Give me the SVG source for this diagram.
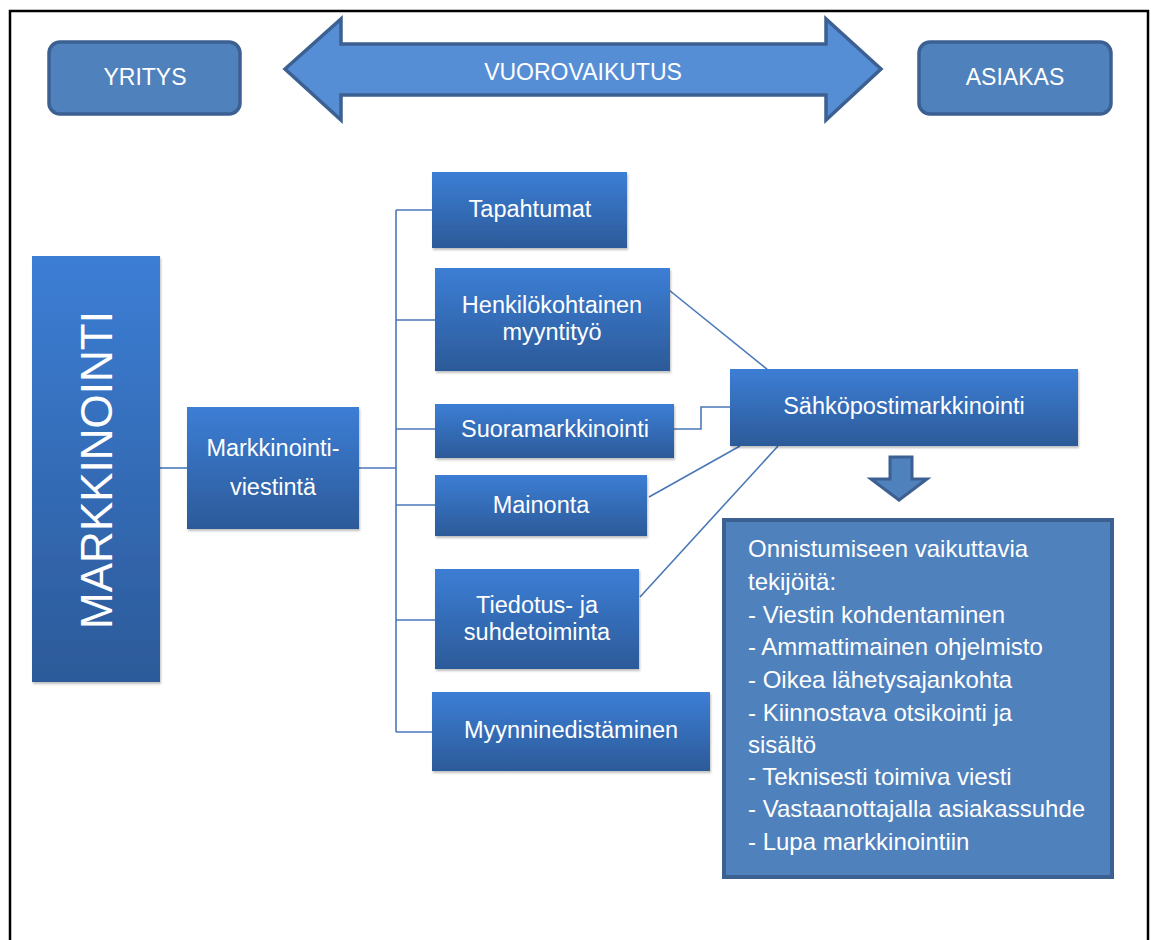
<svg xmlns="http://www.w3.org/2000/svg" width="1151" height="940" viewBox="0 0 1151 940">
<style>
.t{font-family:"Liberation Sans",Arial,sans-serif;fill:#fff;text-anchor:middle}
.n{font-size:23.5px}
.h{font-size:23px}
.l{font-family:"Liberation Sans",Arial,sans-serif;fill:#fff;font-size:24px}
.box{fill:url(#g);filter:url(#sh)}
.rb{fill:#4f81bd;stroke:#3c6091;stroke-width:3.5}
.c{fill:none;stroke:#4a78b8;stroke-width:1.6}
</style>
<defs>
<linearGradient id="g" x1="0" y1="0" x2="0" y2="1">
<stop offset="0" stop-color="#3c7ed5"/>
<stop offset="1" stop-color="#2c5a99"/>
</linearGradient>
<filter id="sh" x="-10%" y="-10%" width="130%" height="130%">
<feDropShadow dx="1" dy="2" stdDeviation="1.2" flood-color="#000" flood-opacity="0.25"/>
</filter>
</defs>
<rect width="1151" height="940" fill="#fff"/>
<path d="M10,945 V11 H1148 V945" fill="none" stroke="#000" stroke-width="2.5"/>

<g id="yritys">
<rect class="rb" x="49" y="42" width="191" height="72" rx="11"/>
<text class="t h" x="145" y="85">YRITYS</text>
</g>
<g id="asiakas">
<rect class="rb" x="919" y="42" width="192" height="72" rx="11"/>
<text class="t h" x="1015" y="85">ASIAKAS</text>
</g>
<g id="vuorovaikutus">
<path class="rb" d="M285,69 L341,19 V44 H826 V19 L881,69 L826,120 V95 H341 V120 Z" style="fill:#558ed5"/>
<text class="t h" x="583" y="80">VUOROVAIKUTUS</text>
</g>

<g id="connectors">
<path class="c" d="M160,468 H187"/>
<path class="c" d="M359,468 H396"/>
<path class="c" d="M396,210 V732"/>
<path class="c" d="M396,210 H432"/>
<path class="c" d="M396,320 H435"/>
<path class="c" d="M396,429 H435"/>
<path class="c" d="M396,505 H435"/>
<path class="c" d="M396,620 H435"/>
<path class="c" d="M396,732 H432"/>
<path class="c" d="M669,290 L768,370"/>
<path class="c" d="M674,429 H701 V407 H730"/>
<path class="c" d="M649,497 L740,446"/>
<path class="c" d="M640,597 L778,446"/>
</g>

<g id="markkinointi">
<rect class="box" x="32" y="256" width="128" height="426"/>
<text class="t" style="font-size:44px" transform="translate(112,470) rotate(-90)">MARKKINOINTI</text>
</g>
<g id="markkinointiviestinta">
<rect class="box" x="187" y="407" width="172" height="122"/>
<text class="t n" x="273" y="456">Markkinointi-</text>
<text class="t n" x="273" y="495">viestintä</text>
</g>
<g id="tapahtumat">
<rect class="box" x="432" y="172" width="195" height="76"/>
<text class="t n" x="530" y="217">Tapahtumat</text>
</g>
<g id="henkilokohtainen">
<rect class="box" x="435" y="268" width="235" height="103"/>
<text class="t n" x="552" y="313">Henkilökohtainen</text>
<text class="t n" x="552" y="340">myyntityö</text>
</g>
<g id="suoramarkkinointi">
<rect class="box" x="435" y="404" width="239" height="54"/>
<text class="t n" x="555" y="437">Suoramarkkinointi</text>
</g>
<g id="mainonta">
<rect class="box" x="435" y="475" width="212" height="61"/>
<text class="t n" x="541" y="513">Mainonta</text>
</g>
<g id="tiedotus">
<rect class="box" x="435" y="569" width="204" height="100"/>
<text class="t n" x="537" y="613">Tiedotus- ja</text>
<text class="t n" x="537" y="640">suhdetoiminta</text>
</g>
<g id="myynninedistaminen">
<rect class="box" x="432" y="692" width="278" height="79"/>
<text class="t n" x="571" y="738">Myynninedistäminen</text>
</g>
<g id="sahkopostimarkkinointi">
<rect class="box" x="730" y="369" width="348" height="77"/>
<text class="t n" x="904" y="414">Sähköpostimarkkinointi</text>
</g>
<g id="downarrow">
<path d="M890,457 H912 V479 H927 L899,500 L871,479 H890 Z" fill="#4f81bd" stroke="#3c6091" stroke-width="3"/>
</g>
<g id="tekijat">
<rect x="724" y="520" width="388" height="357" fill="#4f81bd" stroke="#3c6091" stroke-width="4"/>
<text class="l" x="748" y="557">Onnistumiseen vaikuttavia</text>
<text class="l" x="748" y="590">tekijöitä:</text>
<text class="l" x="748" y="623">- Viestin kohdentaminen</text>
<text class="l" x="748" y="655">- Ammattimainen ohjelmisto</text>
<text class="l" x="748" y="688">- Oikea lähetysajankohta</text>
<text class="l" x="748" y="721">- Kiinnostava otsikointi ja</text>
<text class="l" x="748" y="753">sisältö</text>
<text class="l" x="748" y="785">- Teknisesti toimiva viesti</text>
<text class="l" x="748" y="817">- Vastaanottajalla asiakassuhde</text>
<text class="l" x="748" y="850">- Lupa markkinointiin</text>
</g>
</svg>
